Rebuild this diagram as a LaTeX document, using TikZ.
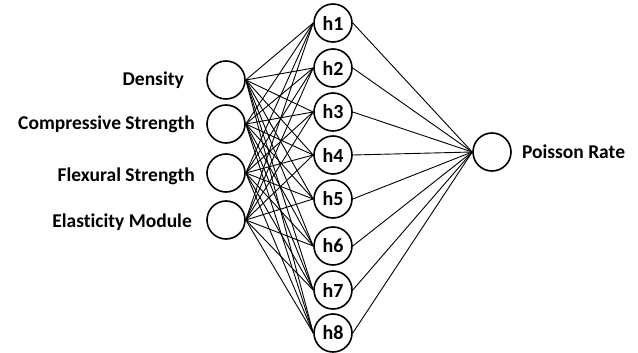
\documentclass[tikz,border=0pt]{standalone}
\usepackage{fontspec}
\setmainfont{Carlito}[Ligatures=NoCommon]
\usepackage{tikz}
\usetikzlibrary{positioning}
\tikzstyle{neuron} = [circle, draw, line width=1.6pt, minimum size=38pt, inner sep=0pt, font=\fontsize{20}{22}\selectfont\bfseries]
\tikzstyle{inlabel} = [anchor=east, inner sep=0pt, font=\fontsize{19.5}{22}\selectfont\bfseries]
\tikzstyle{outlabel} = [anchor=west, inner sep=0pt, font=\fontsize{19.5}{22}\selectfont\bfseries]
\tikzstyle{synapse} = [line width=0.9pt]

\begin{document}
\begin{tikzpicture}[x=1pt, y=-1pt]
		\useasboundingbox (0,0) rectangle (638,353);
		% input layer
		\node (in1) [neuron] at (226,80) {};
		\node (in2) [neuron] at (226,124) {};
		\node (in3) [neuron] at (226,173) {};
		\node (in4) [neuron] at (226,220) {};
		\node (lab1) [inlabel] at (184,80) {Density};
		\node (lab2) [inlabel] at (195,124) {Compressive Strength};
		\node (lab3) [inlabel] at (195,176) {Flexural Strength};
		\node (lab4) [inlabel] at (192,222) {Elasticity Module};
		% hidden layer
		\node (h1) [neuron] at (333,23) {h1};
		\node (h2) [neuron] at (333,68) {h2};
		\node (h3) [neuron] at (333,112) {h3};
		\node (h4) [neuron] at (333,155) {h4};
		\node (h5) [neuron] at (333,199) {h5};
		\node (h6) [neuron] at (333,246) {h6};
		\node (h7) [neuron] at (333,290) {h7};
		\node (h8) [neuron] at (333,333) {h8};
		% output layer
		\node (out) [neuron] at (492,152) {};
		\node (outlab) [outlabel, right = 10pt of out] {Poisson Rate};
		% connections
		\foreach \i in {1,...,4}
			\foreach \j in {1,...,8}
				\draw [synapse] (in\i.east) -- (h\j.west);
		\foreach \j in {1,...,8}
			\draw [synapse] (h\j.east) -- (out.west);
	\end{tikzpicture}
\end{document}
